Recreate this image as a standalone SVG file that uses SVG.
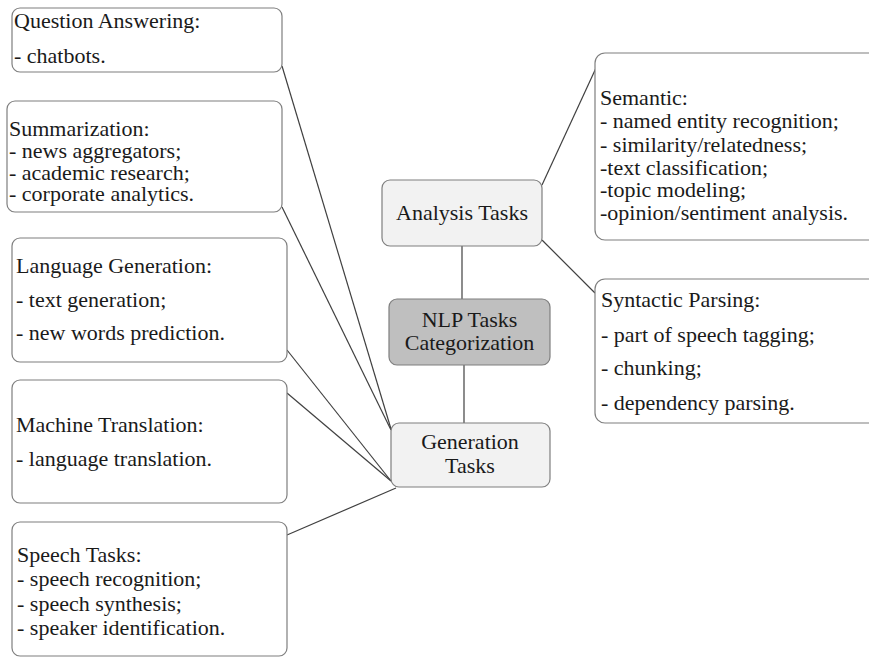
<svg xmlns="http://www.w3.org/2000/svg" width="869" height="658" viewBox="0 0 869 658">
  <style>
    .box { fill: #ffffff; stroke: #7f7f7f; stroke-width: 1.2; }
    .hub { fill: #f2f2f2; stroke: #7f7f7f; stroke-width: 1.2; }
    .root { fill: #bfbfbf; stroke: #7f7f7f; stroke-width: 1.2; }
    .link { stroke: #404040; stroke-width: 1.2; fill: none; }
    .c { text-anchor: middle; }
  </style>
  <rect width="869" height="658" fill="#ffffff"/>

  <!-- connectors -->
  <g id="connectors">
    <line class="link" x1="462" y1="246" x2="462" y2="299"/>
    <line class="link" x1="464" y1="365" x2="464" y2="423"/>
    <line class="link" x1="542" y1="185" x2="596" y2="68"/>
    <line class="link" x1="542" y1="240" x2="595" y2="293"/>
    <line class="link" x1="282" y1="66" x2="391" y2="429"/>
    <line class="link" x1="282" y1="207" x2="391" y2="430"/>
    <line class="link" x1="287" y1="350" x2="391" y2="481"/>
    <line class="link" x1="287" y1="393" x2="391" y2="481"/>
    <line class="link" x1="287" y1="535" x2="396" y2="488"/>
  </g>

  <g font-family="'Liberation Serif', 'Times New Roman', 'DejaVu Serif', serif" font-size="22" fill="#1a1a1a">
  <!-- central nodes -->
  <g id="analysis-tasks">
    <rect class="hub" x="382" y="180" width="160" height="66" rx="8"/>
    <text class="c" x="462" y="220">Analysis Tasks</text>
  </g>
  <g id="nlp-tasks">
    <rect class="root" x="389" y="299" width="161" height="66" rx="8"/>
    <text class="c" x="469.5" y="327">NLP Tasks</text>
    <text class="c" x="469.5" y="350">Categorization</text>
  </g>
  <g id="generation-tasks">
    <rect class="hub" x="391" y="423" width="159" height="64" rx="8"/>
    <text class="c" x="470" y="449">Generation</text>
    <text class="c" x="470" y="473">Tasks</text>
  </g>

  <!-- generation leaves -->
  <g id="question-answering">
    <rect class="box" x="12" y="8" width="270" height="64" rx="8"/>
    <text x="14" y="28">Question Answering:</text>
    <text x="14" y="63">- chatbots.</text>
  </g>
  <g id="summarization">
    <rect class="box" x="7" y="101" width="275" height="111" rx="8"/>
    <text x="9" y="136">Summarization:</text>
    <text x="9" y="158">- news aggregators;</text>
    <text x="9" y="180">- academic research;</text>
    <text x="9" y="201">- corporate analytics.</text>
  </g>
  <g id="language-generation">
    <rect class="box" x="12" y="238" width="275" height="124" rx="8"/>
    <text x="16" y="273">Language Generation:</text>
    <text x="16" y="307">- text generation;</text>
    <text x="16" y="340">- new words prediction.</text>
  </g>
  <g id="machine-translation">
    <rect class="box" x="12" y="380" width="275" height="123" rx="8"/>
    <text x="16" y="432">Machine Translation:</text>
    <text x="16" y="466">- language translation.</text>
  </g>
  <g id="speech-tasks">
    <rect class="box" x="12" y="522" width="275" height="134" rx="8"/>
    <text x="17" y="562">Speech Tasks:</text>
    <text x="17" y="586">- speech recognition;</text>
    <text x="17" y="611">- speech synthesis;</text>
    <text x="17" y="635">- speaker identification.</text>
  </g>

  <!-- analysis leaves -->
  <g id="semantic">
    <rect class="box" x="595" y="53" width="290" height="187" rx="10"/>
    <text x="600" y="105">Semantic:</text>
    <text x="600" y="128">- named entity recognition;</text>
    <text x="600" y="152">- similarity/relatedness;</text>
    <text x="600" y="175">-text classification;</text>
    <text x="600" y="197">-topic modeling;</text>
    <text x="600" y="220">-opinion/sentiment analysis.</text>
  </g>
  <g id="syntactic-parsing">
    <rect class="box" x="595" y="279" width="290" height="144" rx="10"/>
    <text x="601" y="307">Syntactic Parsing:</text>
    <text x="601" y="342">- part of speech tagging;</text>
    <text x="601" y="375">- chunking;</text>
    <text x="601" y="410">- dependency parsing.</text>
  </g>
  </g>
</svg>
